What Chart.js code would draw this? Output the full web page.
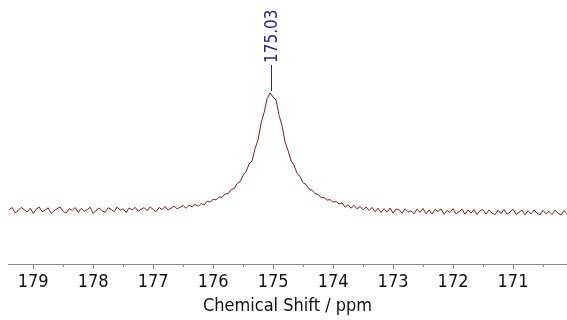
<!DOCTYPE html>
<html>
<head>
<meta charset="utf-8">
<script src="https://cdn.jsdelivr.net/npm/chart.js@4"></script>
<style>
  body { margin: 0; background: #fff; }
  #wrap { width: 567px; height: 320px; }
</style>
</head>
<body>
<div id="wrap"><canvas id="spectrum" width="567" height="320"></canvas></div>
<script>
// spectrum sampled every 0.05 ppm, starting at 179.40 and going down
const shiftStart = 179.40;
const shiftStep = 0.05;
const intensity = [
  1.2, 2.9, -1.5, 0.4, 3.1, 1.0, -0.8, 2.4, -2.0, 1.6,
  3.3, -0.6, 0.9, 2.7, -1.9, 0.2, 2.1, 3.4, -0.4, -1.8,
  1.9, 0.5, 3.0, -1.2, 2.2, -0.3, 1.1, 3.2, -2.1, 0.7,
  2.5, 0.1, -1.0, 2.8, 1.4, -0.7, 3.5, 0.6, 1.8, -1.4,
  2.6, 0.9, 3.1, -0.2, 1.5, 2.9, 0.3, 3.6, 1.2, -0.5,
  2.9, 1.3, 3.8, 0.8, 2.5, 4.1, 1.9, 3.2, 4.6, 2.3,
  4.9, 3.5, 5.7, 4.0, 6.3, 5.1, 8.4, 7.5, 9.8, 9.4,
  11.8, 11.7, 14.5, 14.6, 18.2, 19.0, 23.2, 25.0, 30.2, 33.5,
  39.8, 42.5, 53.1, 60.6, 74.4, 83.4, 95.2, 100.0, 96.6, 93.9,
  81.0, 72.1, 58.4, 51.2, 42.5, 38.6, 31.8, 29.0, 24.0, 22.4,
  18.6, 17.6, 14.6, 14.1, 11.3, 11.6, 9.2, 9.7, 7.4, 8.1,
  6.0, 6.8, 3.3, 5.2, 2.4, 4.8, 1.8, 3.9, 1.0, 3.5,
  0.4, 3.1, -0.6, 2.4, -1.3, 2.0, -0.9, 2.6, -1.8, 1.7,
  1.1, -2.0, 1.9, -0.8, 0.3, -2.4, 1.6, -1.1, 2.2, -2.3,
  0.9, -2.6, 1.4, -0.3, 1.8, -2.8, 0.5, -1.4, 2.0, -2.5,
  -0.6, 1.5, -2.7, 0.9, -1.9, 1.3, -3.0, 0.4, 1.2, -2.6,
  1.0, -1.7, -3.1, 0.8, -2.2, 1.4, -2.9, -0.8, 1.5, -2.7,
  -1.2, 0.9, -3.2, 0.2, -2.5, 1.0, -1.9, -3.3, 0.6, -2.4,
  -0.4, -3.0, 0.8, -1.8, -3.4, 0.3, -2.2
];
const tickValues = [179, 178.5, 178, 177.5, 177, 176.5, 176, 175.5, 175,
  174.5, 174, 173.5, 173, 172.5, 172, 171.5, 171, 170.5];
const peakShift = 175.03;
const peakLabel = "175.03";
const axisTitle = "Chemical Shift / ppm";

const fontFamily = '"DejaVu Sans Condensed", "DejaVu Sans", sans-serif';
const lineColor = '#8e1b1b';
const peakColor = '#23239a';
const axisColor = '#8a8a8a';

const points = intensity.map((v, i) => ({ x: shiftStart - i * shiftStep, y: v }));

const tickMarks = {
  id: 'tickMarks',
  afterDraw(chart) {
    const { ctx } = chart;
    const x = chart.scales.x;
    ctx.save();
    ctx.strokeStyle = axisColor;
    ctx.lineWidth = 1;
    x.ticks.forEach(t => {
      const xp = Math.round(x.getPixelForValue(t.value)) + 0.5;
      const len = Number.isInteger(t.value) ? 5 : 3;
      ctx.beginPath();
      ctx.moveTo(xp, x.top);
      ctx.lineTo(xp, x.top + len);
      ctx.stroke();
    });
    ctx.restore();
  }
};

const peakMarker = {
  id: 'peakMarker',
  afterDatasetsDraw(chart) {
    const { ctx, scales: { x, y } } = chart;
    const px = Math.round(x.getPixelForValue(peakShift)) + 0.5;
    const top = y.getPixelForValue(Math.max(...intensity));
    ctx.save();
    ctx.strokeStyle = peakColor;
    ctx.lineWidth = 1;
    ctx.beginPath();
    ctx.moveTo(px, top - 2);
    ctx.lineTo(px, top - 28);
    ctx.stroke();
    ctx.translate(px, top - 30);
    ctx.rotate(-Math.PI / 2);
    ctx.fillStyle = peakColor;
    ctx.font = '17px ' + fontFamily;
    ctx.textAlign = 'left';
    ctx.textBaseline = 'middle';
    ctx.fillText(peakLabel, 0, 1);
    ctx.restore();
  }
};

new Chart(document.getElementById('spectrum'), {
  type: 'line',
  data: {
    datasets: [{
      data: points,
      borderColor: lineColor,
      borderWidth: 1,
      pointRadius: 0,
      tension: 0,
      fill: false
    }]
  },
  options: {
    responsive: false,
    animation: false,
    layout: { padding: { left: 8, right: 0, top: 0, bottom: 0 } },
    plugins: { legend: { display: false }, tooltip: { enabled: false } },
    scales: {
      x: {
        type: 'linear',
        reverse: true,
        min: 170.1,
        max: 179.42,
        afterBuildTicks: s => { s.ticks = tickValues.map(v => ({ value: v })); },
        afterFit: s => { s.height = 56; },
        border: { display: true, color: axisColor, width: 1 },
        grid: { display: true, drawOnChartArea: false, drawTicks: false },
        ticks: {
          autoSkip: false,
          maxRotation: 0,
          padding: 8,
          color: '#111',
          font: { family: fontFamily, size: 18 },
          callback: v => Number.isInteger(v) ? String(v) : ''
        },
        title: {
          display: true,
          text: axisTitle,
          color: '#111',
          font: { family: fontFamily, size: 18 },
          padding: { top: 0, bottom: 3 }
        }
      },
      y: {
        display: false,
        min: -44.9,
        max: 178.8
      }
    }
  },
  plugins: [tickMarks, peakMarker]
});
</script>
</body>
</html>
